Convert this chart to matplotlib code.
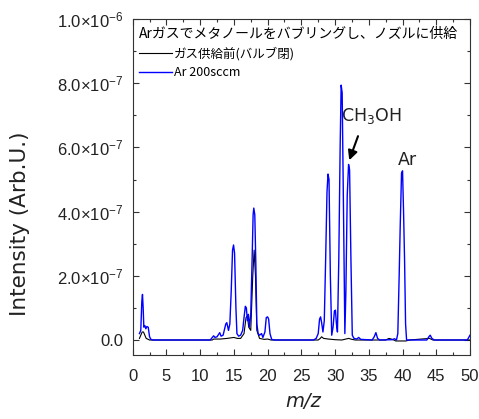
import matplotlib
matplotlib.use("Agg")
import matplotlib.pyplot as plt
from matplotlib.ticker import MultipleLocator, FuncFormatter
from matplotlib.font_manager import FontProperties
import numpy as np

plt.rcParams['font.family'] = ['Liberation Sans', 'DejaVu Sans']
plt.rcParams['mathtext.fontset'] = 'custom'
plt.rcParams['mathtext.rm'] = 'Liberation Sans'
plt.rcParams['mathtext.it'] = 'Liberation Sans:italic'
plt.rcParams['mathtext.default'] = 'regular'

# ---- data (intensity in units of 1e-7 Arb.U.) ----
UNIT = 1e-7

blue_mz = [1.0, 1.2, 1.35, 1.45, 1.55, 1.65, 1.8, 1.95, 2.1, 2.3, 2.5, 2.7, 3.0,
           11.5, 11.8, 12.0, 12.2, 12.5, 12.9, 13.1, 13.4, 13.8, 13.95, 14.1, 14.2, 14.4,
           14.6, 14.8, 14.95, 15.1, 15.3, 15.45, 15.7, 16.0, 16.3, 16.5, 16.7, 16.85,
           17.0, 17.15, 17.3, 17.5, 17.7, 17.85, 17.95, 18.1, 18.25, 18.4, 18.6, 18.8,
           19.1, 19.3, 19.6, 19.8, 20.0, 20.15, 20.35, 20.6, 21.0,
           26.8, 27.2, 27.5, 27.7, 27.85, 28.0, 28.2, 28.4, 28.6, 28.8, 28.95, 29.1,
           29.3, 29.5, 29.7, 29.9, 30.05, 30.2, 30.35, 30.55, 30.75, 30.9, 31.05, 31.25,
           31.45, 31.6, 31.8, 32.0, 32.15, 32.35, 32.55, 32.8, 33.2, 33.5, 33.8,
           35.5, 35.8, 36.05, 36.3, 36.6, 38.5, 38.8, 39.1, 39.3, 39.5, 39.65, 39.85,
           40.0, 40.15, 40.3, 40.45, 40.6, 43.6, 43.9, 44.1, 44.35, 44.7, 49.6, 50.0]
blue_int = [0.2, 0.3, 1.2, 1.42, 1.0, 0.4, 0.45, 0.35, 0.42, 0.4, 0.1, 0.02, 0.0,
            0.0, 0.08, 0.13, 0.08, 0.1, 0.23, 0.12, 0.15, 0.5, 0.54, 0.4, 0.3, 0.5,
            1.5, 2.8, 2.96, 2.7, 1.0, 0.2, 0.12, 0.15, 0.3, 0.7, 1.05, 1.0,
            0.6, 0.8, 0.4, 0.8, 2.5, 3.9, 4.11, 3.9, 2.4, 0.5, 0.2, 0.15,
            0.2, 0.08, 0.25, 0.7, 0.72, 0.65, 0.2, 0.02, 0.0,
            0.0, 0.05, 0.2, 0.65, 0.72, 0.55, 0.25, 0.6, 2.5, 4.6, 5.17, 5.0,
            2.0, 0.15, 0.4, 0.9, 0.93, 0.5, 0.25, 2.5, 6.0, 7.94, 7.7, 4.0,
            0.2, 1.5, 4.5, 5.47, 5.3, 2.5, 0.15, 0.05, 0.03, 0.08, 0.02,
            0.0, 0.1, 0.23, 0.05, 0.0, 0.01, 0.04, 0.0, 0.2, 2.0, 3.5, 5.2,
            5.27, 4.0, 2.5, 0.5, 0.0, 0.0, 0.1, 0.15, 0.05, 0.0, 0.0, 0.15]

black_mz = [1.0, 1.2, 1.4, 1.6, 1.8, 2.0, 2.5, 3.5, 11.8, 12.0, 13.0, 14.0, 15.0,
            15.5, 16.0, 16.5, 16.8, 17.0, 17.2, 17.5, 17.8, 18.0, 18.2, 18.4, 18.8,
            19.5, 20.0, 20.5, 27.5, 27.8, 28.0, 28.3, 29.0, 30.0, 31.0, 32.0, 32.5,
            33.0, 37.5, 38.0, 38.5, 39.0, 40.5, 41.0, 44.0, 44.5, 50.0]
black_int = [0.05, 0.15, 0.25, 0.25, 0.15, 0.05, 0.0, 0.0, 0.0, 0.03, 0.03, 0.05, 0.08,
             0.05, 0.05, 0.2, 0.7, 0.75, 0.4, 0.3, 2.0, 2.8, 2.0, 0.3, 0.05,
             0.02, 0.03, 0.0, 0.0, 0.05, 0.1, 0.05, 0.03, 0.01, 0.0, 0.05, 0.02,
             0.0, 0.0, 0.05, 0.02, -0.03, -0.03, 0.0, 0.05, 0.0, 0.0]

legend_title = "Arガスでメタノールをバブリングし、ノズルに供給"
label_black = "ガス供給前(バルブ閉)"
label_blue = "Ar 200sccm"

# ---- figure ----
fig = plt.figure(figsize=(4.79, 4.19), dpi=100)
ax = fig.add_axes([132.7 / 479, 1 - 355 / 419, 337.3 / 479, 336 / 419])

ax.plot(black_mz, np.array(black_int) * UNIT, color='black', lw=0.8, label=label_black)
ax.plot(blue_mz, np.array(blue_int) * UNIT, color='#0000ff', lw=1.0, label=label_blue)

ax.set_xlim(0, 50)
ax.set_ylim(-0.467e-7, 1.0e-6)

ax.xaxis.set_major_locator(MultipleLocator(5))
ax.xaxis.set_minor_locator(MultipleLocator(2.5))
ax.yaxis.set_major_locator(MultipleLocator(2e-7))
ax.yaxis.set_minor_locator(MultipleLocator(1e-7))


def yfmt(v, pos):
    if abs(v) < 1e-12:
        return '0.0'
    e = int(np.floor(np.log10(abs(v)) + 1e-9))
    m = v / 10 ** e
    return '%.1f\u00d710$^{%d}$' % (m, e)


ax.yaxis.set_major_formatter(FuncFormatter(yfmt))
ax.tick_params(which='both', direction='in', top=True, right=True, colors='#333333',
               labelcolor='#222222', labelsize=12)
ax.tick_params(which='major', length=4, width=0.8)
ax.tick_params(which='minor', length=2.5, width=0.8)
ax.tick_params(axis='x', which='major', pad=10)
ax.tick_params(axis='y', which='major', pad=7)
for s in ax.spines.values():
    s.set_color('#333333')
    s.set_linewidth(0.8)

ax.set_ylabel('Intensity (Arb.U.)', family='DejaVu Sans', fontsize=15.5, color='#222222')
ax.yaxis.set_label_coords(-0.3045, 0.39)
ax.set_xlabel('m/z', family='DejaVu Sans', style='italic', fontsize=14, color='#222222')
ax.xaxis.set_label_coords(0.505, -0.110)

cjk_title = FontProperties(family=['Noto Sans CJK JP', 'DejaVu Sans'], size=10)
cjk = FontProperties(family=['Noto Sans CJK JP', 'DejaVu Sans'], size=9)
leg = ax.legend(loc='upper left', bbox_to_anchor=(0.0187, 0.975), frameon=False,
                prop=cjk, title=legend_title, title_fontproperties=cjk_title,
                alignment='left', borderpad=0, borderaxespad=0, handlelength=2.6,
                handletextpad=0.2, labelspacing=0.45)

ax.text(35.4, 6.97e-7, r'CH$_3$OH', family='DejaVu Sans', fontsize=12.5,
        ha='center', va='center', color='#222222')
ax.annotate('', xy=(32.1, 5.6e-7), xytext=(33.4, 6.35e-7),
            arrowprops=dict(arrowstyle='-|>', color='black', lw=1.5, mutation_scale=14,
                            shrinkA=0, shrinkB=0))
ax.text(40.7, 5.6e-7, 'Ar', family='DejaVu Sans', fontsize=12.5,
        ha='center', va='center', color='#222222')

fig.savefig('out.png', dpi=100)
